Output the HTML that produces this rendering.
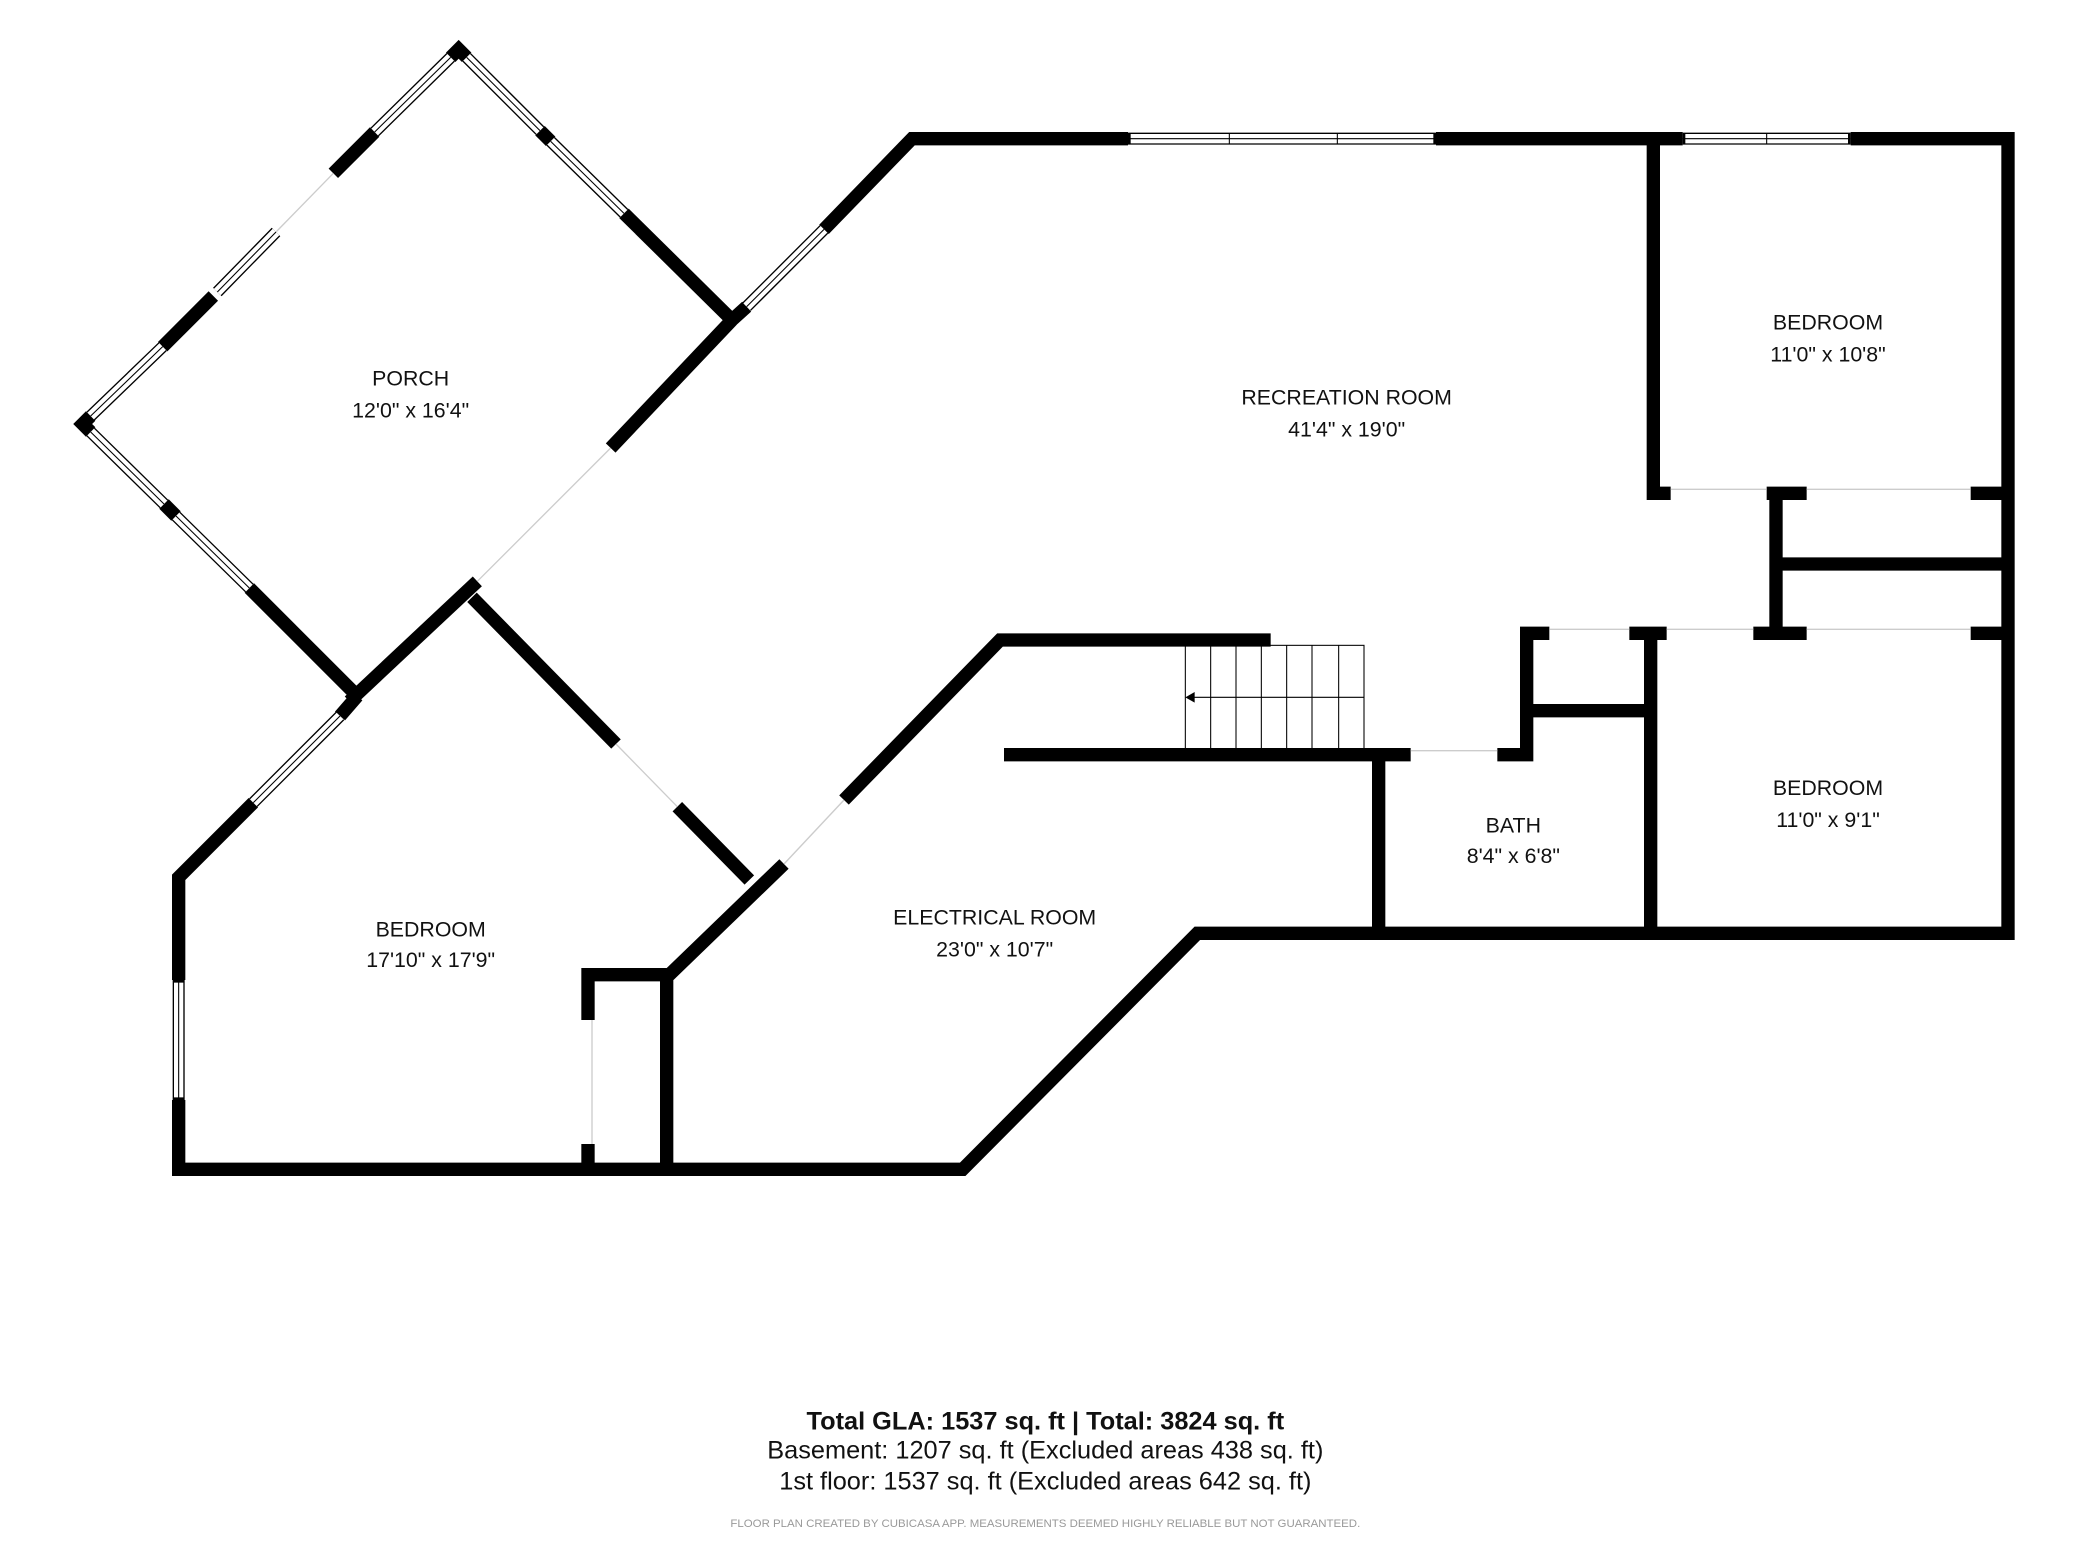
<!DOCTYPE html>
<html><head><meta charset="utf-8"><style>html,body{margin:0;padding:0;background:#fff}svg{display:block}</style></head>
<body>
<svg width="2080" height="1560" viewBox="0 0 1560 1170" xmlns="http://www.w3.org/2000/svg">
<rect width="1560" height="1170" fill="#fff"/>
<g fill="none" stroke="#000" stroke-width="10" stroke-linejoin="miter">
<polyline points="338,43 344,37 350,43"/>
<line x1="281" y1="99" x2="250" y2="130"/>
<line x1="160" y1="222" x2="122" y2="260"/>
<polyline points="68,312 62,318 68,324"/>
<line x1="405" y1="98" x2="413" y2="106"/>
<line x1="468" y1="160" x2="549" y2="240"/>
<line x1="123" y1="378" x2="132" y2="387"/>
<line x1="187" y1="441" x2="268" y2="522"/>
<line x1="262" y1="526" x2="358" y2="436"/>
<polyline points="458,336 549,240 560,230"/>
<polyline points="618,172 684,104 846,104"/>
<line x1="1077" y1="104" x2="1262" y2="104"/>
<polyline points="1388,104 1506,104 1506,700 898,700 722,877 134,877 134,825"/>
<polyline points="134,735 134,658 190,602"/>
<line x1="255" y1="537" x2="268" y2="522"/>
<line x1="354" y1="448" x2="462" y2="558"/>
<line x1="508" y1="605" x2="562" y2="660"/>
<polyline points="953,480 750,480 633,600"/>
<polyline points="588,648 500,733 500,877"/>
<line x1="441" y1="731" x2="500" y2="731"/>
<line x1="441" y1="726" x2="441" y2="765"/>
<line x1="441" y1="858" x2="441" y2="877"/>
<line x1="753" y1="566" x2="1058" y2="566"/>
<polyline points="1123,566 1145,566 1145,475 1162,475"/>
<line x1="1145" y1="533" x2="1238" y2="533"/>
<line x1="1222" y1="475" x2="1250" y2="475"/>
<line x1="1238" y1="475" x2="1238" y2="700"/>
<line x1="1034" y1="566" x2="1034" y2="700"/>
<polyline points="1240,104 1240,370 1253,370"/>
<line x1="1325" y1="370" x2="1355" y2="370"/>
<line x1="1478" y1="370" x2="1506" y2="370"/>
<line x1="1332" y1="370" x2="1332" y2="475"/>
<line x1="1315" y1="475" x2="1355" y2="475"/>
<line x1="1478" y1="475" x2="1506" y2="475"/>
<line x1="1332" y1="423" x2="1506" y2="423"/>
</g>
<g stroke-linecap="butt">
<g stroke="#000" stroke-width="9">
<line x1="338" y1="43" x2="281" y2="99"/><line x1="207" y1="174" x2="163" y2="219"/><line x1="122" y1="260" x2="68" y2="312"/>
<line x1="350" y1="43" x2="405" y2="98"/><line x1="413" y1="106" x2="468" y2="160"/>
<line x1="68" y1="324" x2="123" y2="378"/><line x1="132" y1="387" x2="187" y2="441"/>
<line x1="560" y1="230" x2="618" y2="172"/>
<line x1="846" y1="104" x2="1077" y2="104"/><line x1="1262" y1="104" x2="1388" y2="104"/>
<line x1="134" y1="825" x2="134" y2="735"/><line x1="190" y1="602" x2="255" y2="537"/>
</g>
<g stroke="#fff" stroke-width="7">
<line x1="338" y1="43" x2="281" y2="99"/><line x1="207" y1="174" x2="163" y2="219"/><line x1="122" y1="260" x2="68" y2="312"/>
<line x1="350" y1="43" x2="405" y2="98"/><line x1="413" y1="106" x2="468" y2="160"/>
<line x1="68" y1="324" x2="123" y2="378"/><line x1="132" y1="387" x2="187" y2="441"/>
<line x1="560" y1="230" x2="618" y2="172"/>
<line x1="848" y1="104" x2="1075" y2="104"/><line x1="1264" y1="104" x2="1386" y2="104"/>
<line x1="134" y1="823" x2="134" y2="737"/><line x1="190" y1="602" x2="255" y2="537"/>
</g>
<g stroke="#000" stroke-width="0.8">
<line x1="338" y1="43" x2="281" y2="99"/><line x1="207" y1="174" x2="163" y2="219"/><line x1="122" y1="260" x2="68" y2="312"/>
<line x1="350" y1="43" x2="405" y2="98"/><line x1="413" y1="106" x2="468" y2="160"/>
<line x1="68" y1="324" x2="123" y2="378"/><line x1="132" y1="387" x2="187" y2="441"/>
<line x1="560" y1="230" x2="618" y2="172"/>
<line x1="846" y1="104" x2="1077" y2="104"/><line x1="1262" y1="104" x2="1388" y2="104"/>
<line x1="134" y1="825" x2="134" y2="735"/><line x1="190" y1="602" x2="255" y2="537"/>
<line x1="922" y1="100" x2="922" y2="108"/><line x1="1003" y1="100" x2="1003" y2="108"/><line x1="1325" y1="100" x2="1325" y2="108"/>
</g>
</g>
<g stroke="#ccc" stroke-width="1">
<line x1="250" y1="130" x2="207" y2="174"/><line x1="358" y1="436" x2="458" y2="336"/>
<line x1="462" y1="558" x2="508" y2="605"/><line x1="633" y1="600" x2="588" y2="648"/>
<line x1="1058" y1="563" x2="1123" y2="563"/><line x1="1162" y1="472" x2="1222" y2="472"/>
<line x1="1250" y1="472" x2="1315" y2="472"/><line x1="1355" y1="472" x2="1478" y2="472"/>
<line x1="1253" y1="367" x2="1325" y2="367"/><line x1="1355" y1="367" x2="1478" y2="367"/>
<line x1="444" y1="765" x2="444" y2="858"/>
</g>
<g stroke="#000" stroke-width="0.8" fill="none">
<rect x="889" y="484" width="134" height="78"/>
<line x1="908" y1="484" x2="908" y2="562"/><line x1="927" y1="484" x2="927" y2="562"/>
<line x1="946" y1="484" x2="946" y2="562"/><line x1="965" y1="484" x2="965" y2="562"/>
<line x1="984" y1="484" x2="984" y2="562"/><line x1="1004" y1="484" x2="1004" y2="562"/>
<line x1="893" y1="523" x2="1023" y2="523"/>
</g>
<polygon points="889,523 896,519 896,527" fill="#000"/>
<g font-family="Liberation Sans, sans-serif" font-size="16" fill="#111" text-anchor="middle" dominant-baseline="central">
<text x="308" y="284">PORCH</text><text x="308" y="308">12'0" x 16'4"</text>
<text x="1010" y="298">RECREATION ROOM</text><text x="1010" y="322">41'4" x 19'0"</text>
<text x="1371" y="242">BEDROOM</text><text x="1371" y="266">11'0" x 10'8"</text>
<text x="1371" y="591">BEDROOM</text><text x="1371" y="615">11'0" x 9'1"</text>
<text x="1135" y="619">BATH</text><text x="1135" y="642">8'4" x 6'8"</text>
<text x="746" y="688">ELECTRICAL ROOM</text><text x="746" y="712">23'0" x 10'7"</text>
<text x="323" y="697">BEDROOM</text><text x="323" y="720">17'10" x 17'9"</text>
<text x="784" y="1066" font-weight="bold" font-size="19">Total GLA: 1537 sq. ft | Total: 3824 sq. ft</text>
<text x="784" y="1088" font-size="19">Basement: 1207 sq. ft (Excluded areas 438 sq. ft)</text>
<text x="784" y="1111" font-size="19">1st floor: 1537 sq. ft (Excluded areas 642 sq. ft)</text>
<text x="784" y="1143" font-size="8.6" fill="#999">FLOOR PLAN CREATED BY CUBICASA APP. MEASUREMENTS DEEMED HIGHLY RELIABLE BUT NOT GUARANTEED.</text>
</g>
</svg>
</body></html>
